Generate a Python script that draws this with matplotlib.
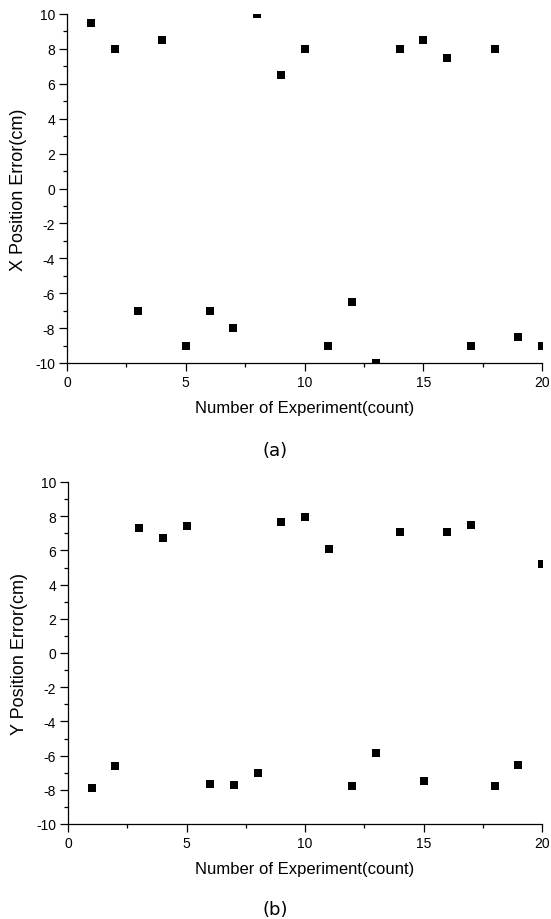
import numpy as np
import matplotlib.pyplot as plt
from matplotlib.ticker import MultipleLocator

plt.rcParams['axes.unicode_minus'] = False

# Data
experiments = list(range(1, 21))
x_error = [9.5, 8.0, -7.0, 8.5, -9.0, -7.0, -8.0, 10.0, 6.5, 8.0,
           -9.0, -6.5, -10.0, 8.0, 8.5, 7.5, -9.0, 8.0, -8.5, -9.0]
y_error = [-7.9, -6.6, 7.3, 6.7, 7.4, -7.65, -7.7, -7.0, 7.65, 7.95,
           6.1, -7.8, -5.85, 7.05, -7.5, 7.1, 7.5, -7.8, -6.55, 5.2]

W, H = 551, 920
FONT = 'Liberation Sans'

fig = plt.figure(figsize=(W / 100, H / 100), dpi=100)


def make_axes(left, right, top, bottom):
    return fig.add_axes([left / W, 1 - bottom / H, (right - left) / W, (bottom - top) / H])


def style(ax, values, ylabel):
    ax.plot(experiments, values, linestyle='none', marker='s', markersize=5.4,
            color='black', markeredgewidth=0)
    ax.set_xlim(0, 20)
    ax.set_ylim(-10, 10)
    ax.xaxis.set_major_locator(MultipleLocator(5))
    ax.xaxis.set_minor_locator(MultipleLocator(2.5))
    ax.yaxis.set_major_locator(MultipleLocator(2))
    ax.yaxis.set_minor_locator(MultipleLocator(1))
    for s in ['top', 'right']:
        ax.spines[s].set_visible(False)
    for s in ['left', 'bottom']:
        ax.spines[s].set_linewidth(0.9)
    ax.tick_params(which='major', direction='out', length=5.5, width=0.9, labelsize=10, pad=3)
    ax.tick_params(which='minor', direction='out', length=3, width=0.9)
    for lab in ax.get_xticklabels() + ax.get_yticklabels():
        lab.set_fontfamily(FONT)
    ax.set_xlabel('Number of Experiment(count)', fontsize=12, fontfamily=FONT, labelpad=8)
    ax.set_ylabel(ylabel, fontsize=13, fontfamily=FONT, labelpad=6)


ax1 = make_axes(67, 542, 15, 364)
style(ax1, x_error, 'X Position Error(cm)')
ax2 = make_axes(68, 542, 483, 825)
style(ax2, y_error, 'Y Position Error(cm)')

fig.text(275 / W, 1 - 451 / H, '(a)', ha='center', va='center', fontsize=13,
         fontfamily='Liberation Sans Narrow')
fig.text(275 / W, 1 - 910 / H, '(b)', ha='center', va='center', fontsize=13,
         fontfamily='Liberation Sans Narrow')

fig.savefig('out.png', dpi=100)
